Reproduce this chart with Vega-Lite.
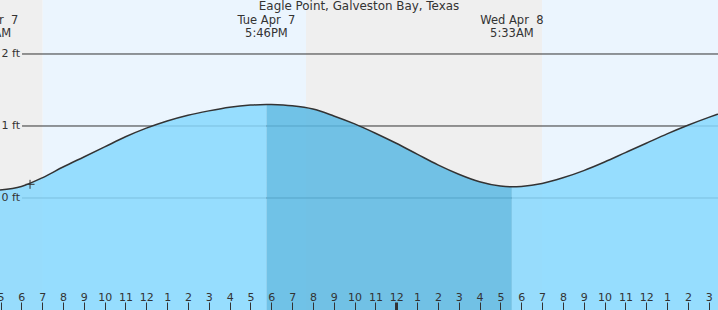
{
  "$schema": "https://vega.github.io/schema/vega-lite/v6.json",
  "width": 718,
  "height": 310,
  "padding": 0,
  "autosize": {"type": "none"},
  "background": "#ffffff",
  "config": {"view": {"stroke": null}, "font": "DejaVu Sans"},
  "title": {
    "text": "Eagle Point, Galveston Bay, Texas",
    "frame": "group",
    "anchor": "middle",
    "offset": -22,
    "baseline": "alphabetic",
    "fontSize": 11.9,
    "fontWeight": "normal",
    "color": "#333333",
    "font": "DejaVu Sans"
  },
  "datasets": {
    "bands": [
      {"start": 4.0, "end": 7.025, "kind": "night"},
      {"start": 7.025, "end": 19.667, "kind": "day"},
      {"start": 19.667, "end": 31.0, "kind": "night"},
      {"start": 31.0, "end": 40.0, "kind": "day"}
    ],
    "tide": [
      {"hour": 4.975, "height": 0.11},
      {"hour": 6, "height": 0.16},
      {"hour": 7, "height": 0.28},
      {"hour": 8, "height": 0.43},
      {"hour": 9, "height": 0.57},
      {"hour": 10, "height": 0.71},
      {"hour": 11, "height": 0.85},
      {"hour": 12, "height": 0.97},
      {"hour": 13, "height": 1.07},
      {"hour": 14, "height": 1.15},
      {"hour": 15, "height": 1.21},
      {"hour": 16, "height": 1.26},
      {"hour": 17, "height": 1.29},
      {"hour": 17.767, "height": 1.30},
      {"hour": 18, "height": 1.298},
      {"hour": 19, "height": 1.28},
      {"hour": 20, "height": 1.235},
      {"hour": 21, "height": 1.14},
      {"hour": 22, "height": 1.03},
      {"hour": 23, "height": 0.90},
      {"hour": 24, "height": 0.76},
      {"hour": 25, "height": 0.61},
      {"hour": 26, "height": 0.46},
      {"hour": 27, "height": 0.33},
      {"hour": 28, "height": 0.225},
      {"hour": 29, "height": 0.165},
      {"hour": 29.55, "height": 0.155},
      {"hour": 30, "height": 0.16},
      {"hour": 31, "height": 0.20},
      {"hour": 32, "height": 0.28},
      {"hour": 33, "height": 0.38},
      {"hour": 34, "height": 0.50},
      {"hour": 35, "height": 0.63},
      {"hour": 36, "height": 0.76},
      {"hour": 37, "height": 0.89},
      {"hour": 38, "height": 1.01},
      {"hour": 39, "height": 1.12},
      {"hour": 39.446, "height": 1.165}
    ],
    "levels": [
      {"height": 2, "start": 6.032, "end": 39.446},
      {"height": 1, "start": 6.032, "end": 39.446},
      {"height": 0, "start": 6.032, "end": 39.446}
    ],
    "now": [{"hour": 6.417, "height": 0.19}],
    "extremes": [
      {"hour": 4.467, "label": "Tue Apr\u00a0\u00a07\n4:28AM"},
      {"hour": 17.767, "label": "Tue Apr\u00a0\u00a07\n5:46PM"},
      {"hour": 29.55, "label": "Wed Apr\u00a0\u00a08\n5:33AM"}
    ]
  },
  "layer": [
    {
      "data": {"name": "bands"},
      "mark": {"type": "rect", "clip": true},
      "encoding": {
        "x": {
          "field": "start",
          "type": "quantitative",
          "scale": {"domain": [4.975, 39.446], "nice": false, "zero": false},
          "axis": {
            "orient": "bottom",
            "offset": -8,
            "values": [5, 6, 7, 8, 9, 10, 11, 12, 13, 14, 15, 16, 17, 18, 19, 20, 21, 22, 23, 24, 25, 26, 27, 28, 29, 30, 31, 32, 33, 34, 35, 36, 37, 38, 39],
            "tickCount": 100,
            "labelExpr": "datum.value % 12 === 0 ? '12' : '' + (datum.value % 12)",
            "labelFlush": false,
            "labelOverlap": false,
            "labelBound": false,
            "labelAngle": 0,
            "labelBaseline": "top",
            "domain": false,
            "grid": false,
            "ticks": true,
            "tickSize": 8,
            "tickColor": "#333333",
            "tickWidth": {"condition": {"test": "datum.value === 24", "value": 3}, "value": 1},
            "labelFontSize": 11,
            "labelFont": "DejaVu Sans",
            "labelColor": "#333333",
            "labelPadding": -19,
            "title": null,
            "zindex": 1
          }
        },
        "x2": {"field": "end"},
        "color": {
          "field": "kind",
          "type": "nominal",
          "scale": {"domain": ["night", "day"], "range": ["#efefef", "#ebf5fe"]},
          "legend": null
        }
      }
    },
    {
      "data": {"name": "levels"},
      "mark": {"type": "rule", "color": "#333333", "strokeWidth": 1},
      "encoding": {
        "x": {"field": "start", "type": "quantitative"},
        "x2": {"field": "end"},
        "y": {
          "field": "height",
          "type": "quantitative",
          "scale": {"domain": [-1.5556, 2.75], "nice": false, "zero": false},
          "axis": {
            "orient": "left",
            "offset": -22,
            "values": [0, 1, 2],
            "labelExpr": "datum.value + ' ft'",
            "ticks": false,
            "domain": false,
            "grid": false,
            "labelFontSize": 11,
            "labelFont": "DejaVu Sans",
            "labelColor": "#333333",
            "labelPadding": 2.5,
            "title": null,
            "zindex": 1
          }
        }
      }
    },
    {
      "data": {"name": "tide"},
      "transform": [{"filter": "datum.hour <= 17.767"}],
      "mark": {"type": "area", "interpolate": "monotone", "color": "#87d8fe", "opacity": 0.85},
      "encoding": {
        "x": {"field": "hour", "type": "quantitative"},
        "y": {"field": "height", "type": "quantitative"},
        "y2": {"datum": -1.5556}
      }
    },
    {
      "data": {"name": "tide"},
      "transform": [{"filter": "datum.hour >= 17.767 && datum.hour <= 29.55"}],
      "mark": {"type": "area", "interpolate": "monotone", "color": "#5ab8e3", "opacity": 0.85},
      "encoding": {
        "x": {"field": "hour", "type": "quantitative"},
        "y": {"field": "height", "type": "quantitative"},
        "y2": {"datum": -1.5556}
      }
    },
    {
      "data": {"name": "tide"},
      "transform": [{"filter": "datum.hour >= 29.55"}],
      "mark": {"type": "area", "interpolate": "monotone", "color": "#87d8fe", "opacity": 0.85},
      "encoding": {
        "x": {"field": "hour", "type": "quantitative"},
        "y": {"field": "height", "type": "quantitative"},
        "y2": {"datum": -1.5556}
      }
    },
    {
      "data": {"name": "tide"},
      "mark": {"type": "line", "interpolate": "monotone", "color": "#333333", "strokeWidth": 1.5},
      "encoding": {
        "x": {"field": "hour", "type": "quantitative"},
        "y": {"field": "height", "type": "quantitative"}
      }
    },
    {
      "data": {"name": "now"},
      "mark": {"type": "point", "shape": "M-1,0L1,0M0,-1L0,1", "filled": false, "stroke": "#333333", "strokeWidth": 1, "size": 81, "opacity": 1},
      "encoding": {
        "x": {"field": "hour", "type": "quantitative"},
        "y": {"field": "height", "type": "quantitative"}
      }
    },
    {
      "data": {"name": "extremes"},
      "mark": {"type": "text", "clip": true, "align": "center", "baseline": "top", "lineBreak": "\n", "lineHeight": 12.5, "fontSize": 11.5, "font": "DejaVu Sans", "color": "#333333"},
      "encoding": {
        "x": {"field": "hour", "type": "quantitative"},
        "y": {"datum": 2.54},
        "text": {"field": "label"}
      }
    }
  ]
}
